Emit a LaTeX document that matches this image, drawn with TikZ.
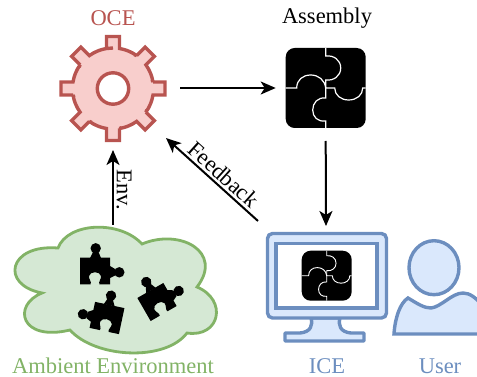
\documentclass[tikz,border=0pt]{standalone}
\usepackage{fontspec}
\setmainfont{Liberation Serif}
\usetikzlibrary{arrows.meta}
\definecolor{redl}{HTML}{B85450}\definecolor{redf}{HTML}{F8CECC}
\definecolor{grnl}{HTML}{82B366}\definecolor{grnf}{HTML}{D5E8D4}
\definecolor{blul}{HTML}{6C8EBF}\definecolor{bluf}{HTML}{DAE8FC}
\tikzset{
  lbl/.style={inner sep=0pt,font=\fontsize{22.5}{24}\selectfont},
  anchorbox/.style={inner sep=0pt,outer sep=0pt},
  flow/.style={line width=2pt,-{Stealth[length=15pt,width=13pt,inset=4pt]}},
  iconline/.style={line width=3.4pt,line join=miter},
  pieceshape/.pic={
    \fill[black] (-15,-13.3) -- (15,-13.3) -- (15,-5) -- (20,-2) -- (20,4.5) -- (15,7) -- (15,13.3) -- (4.5,13.3)
      .. controls (3,11) and (6.5,8) .. (6,5) .. controls (5,0) and (-5,0) .. (-6,5)
      .. controls (-6.5,8) and (-3,11) .. (-4.5,13.3) -- (-15,13.3) -- cycle;
    \fill[black] (-5,-13) -- (-2,-19) -- (3.5,-19) -- (6,-13) -- cycle;
    \fill[black] (0.7,-22.7) circle (5.2);
    \fill[black] (24.3,1.3) circle (5.2);
  },
  jigsaw/.pic={
    \fill[black,rounded corners=9] (-40,-40) rectangle (40,40);
    \draw[white,line width=\pgfkeysvalueof{/tikz/jigline}]
      (0,-40) -- (0,-32) .. controls (8,-33) and (15,-28) .. (15,-20) .. controls (15,-12) and (8,-7) .. (0,-8) -- (0,10)
      .. controls (-8,9) and (-13,15) .. (-13,22) .. controls (-13,29) and (-8,34) .. (0,33) -- (0,40);
    \draw[white,line width=\pgfkeysvalueof{/tikz/jigline}]
      (-40,0) -- (-29,0) .. controls (-29,-8) and (-23,-13) .. (-15,-13) .. controls (-7,-13) and (-1,-8) .. (0,0) -- (9,0)
      .. controls (9,7) and (15,12) .. (23,12) .. controls (31,12) and (37,7) .. (37,0) -- (40,0);
  },
  jigline/.initial=1.2pt
}
\begin{document}
\begin{tikzpicture}[x=1pt,y=1pt,yscale=-1]
\useasboundingbox (0,0) rectangle (477,377);

% gear
\begin{scope}[shift={(113,88.5)}]
\draw[iconline,draw=redl,fill=redf,even odd rule]
  (0,-40.5) \foreach \a in {0,45,...,315}{
    -- ([rotate=\a]-6.5,-40) -- ([rotate=\a]-6.5,-52) -- ([rotate=\a]6.5,-52) -- ([rotate=\a]6.5,-40)
    arc[start angle=\a-80.8,delta angle=26.6,radius=40.5]
  } -- cycle
  (15.7,0) arc[start angle=0,end angle=360,radius=15.7];
\end{scope}
\node[anchorbox,minimum width=134pt,minimum height=124pt] (oce) at (113,88) {};
\node[lbl,text=redl] (ocel) at (113,18) {OCE};

% assembly
\pic[transform shape] at (325.7,88) {jigsaw};
\node[anchorbox,minimum width=100pt,minimum height=106pt] (asm) at (325.7,88) {};
\node[lbl] (asml) at (327,18) {Assembly};

% cloud
\draw[line width=2.8pt,draw=grnl,fill=grnf] (58,248)
  .. controls (68,222) and (120,220) .. (142,244)
  .. controls (180,228) and (224,252) .. (197,287)
  .. controls (228,300) and (220,338) .. (187,333)
  .. controls (165,362) and (95,358) .. (70,330)
  .. controls (20,342) and (12,305) .. (42,293)
  .. controls (0,285) and (8,244) .. (58,248) -- cycle;
\node[anchorbox,minimum width=190pt,minimum height=140pt] (cloud) at (113,295) {};
\pic[transform shape] at (95,271) {pieceshape};
\pic[transform shape,rotate=-30] at (157,302) {pieceshape};
\pic[transform shape,rotate=12,xscale=-1] at (107,318) {pieceshape};
\node[lbl,text=grnl] (ambl) at (113,366) {Ambient Environment};

% monitor
\draw[iconline,draw=blul,fill=bluf,line join=round]
  (311,318) .. controls (313,325) and (311,332) .. (300,333) -- (285,333) -- (285,341) -- (364,341) -- (364,333) -- (351,333)
  .. controls (340,332) and (338,325) .. (340,318) -- cycle;
\draw[iconline,draw=blul,fill=bluf,rounded corners=5] (267.5,233.5) rectangle (386.5,318);
\draw[iconline,draw=blul,fill=white] (276,243.5) rectangle (377,308);
\pic[transform shape,scale=.625,jigline=.9pt] at (326.7,275.7) {jigsaw};
\node[anchorbox,minimum width=120pt,minimum height=100pt] (ice) at (326,276) {};
\node[lbl,text=blul] (icel) at (327,366) {ICE};

% user
\draw[iconline,draw=blul,fill=bluf] (394,334) .. controls (395,318) and (400,303) .. (408,298)
  .. controls (418,304) and (424,308) .. (431,308) .. controls (441,307) and (452,293) .. (463,293)
  .. controls (470,293) and (476,298) .. (482,305) -- (482,334) -- cycle;
\draw[iconline,draw=blul,fill=bluf] (434,267.7) ellipse [x radius=25,y radius=27];
\node[lbl,text=blul] (userl) at (440,366) {User};

% connectors
\coordinate (fbstart) at (258,221);
\coordinate (fbend) at (166,138);
\draw[flow] (oce.east) -- (asm.west);
\draw[flow] (asm.south) -- (ice.north);
\draw[flow] (fbstart) -- (fbend);
\draw[flow] (cloud.north) -- (oce.south);
\node[lbl,rotate=-42] (fbl) at (223.5,174.5) {Feedback};
\node[lbl,rotate=-90] (envl) at (124,190) {Env.};
\end{tikzpicture}
\end{document}
